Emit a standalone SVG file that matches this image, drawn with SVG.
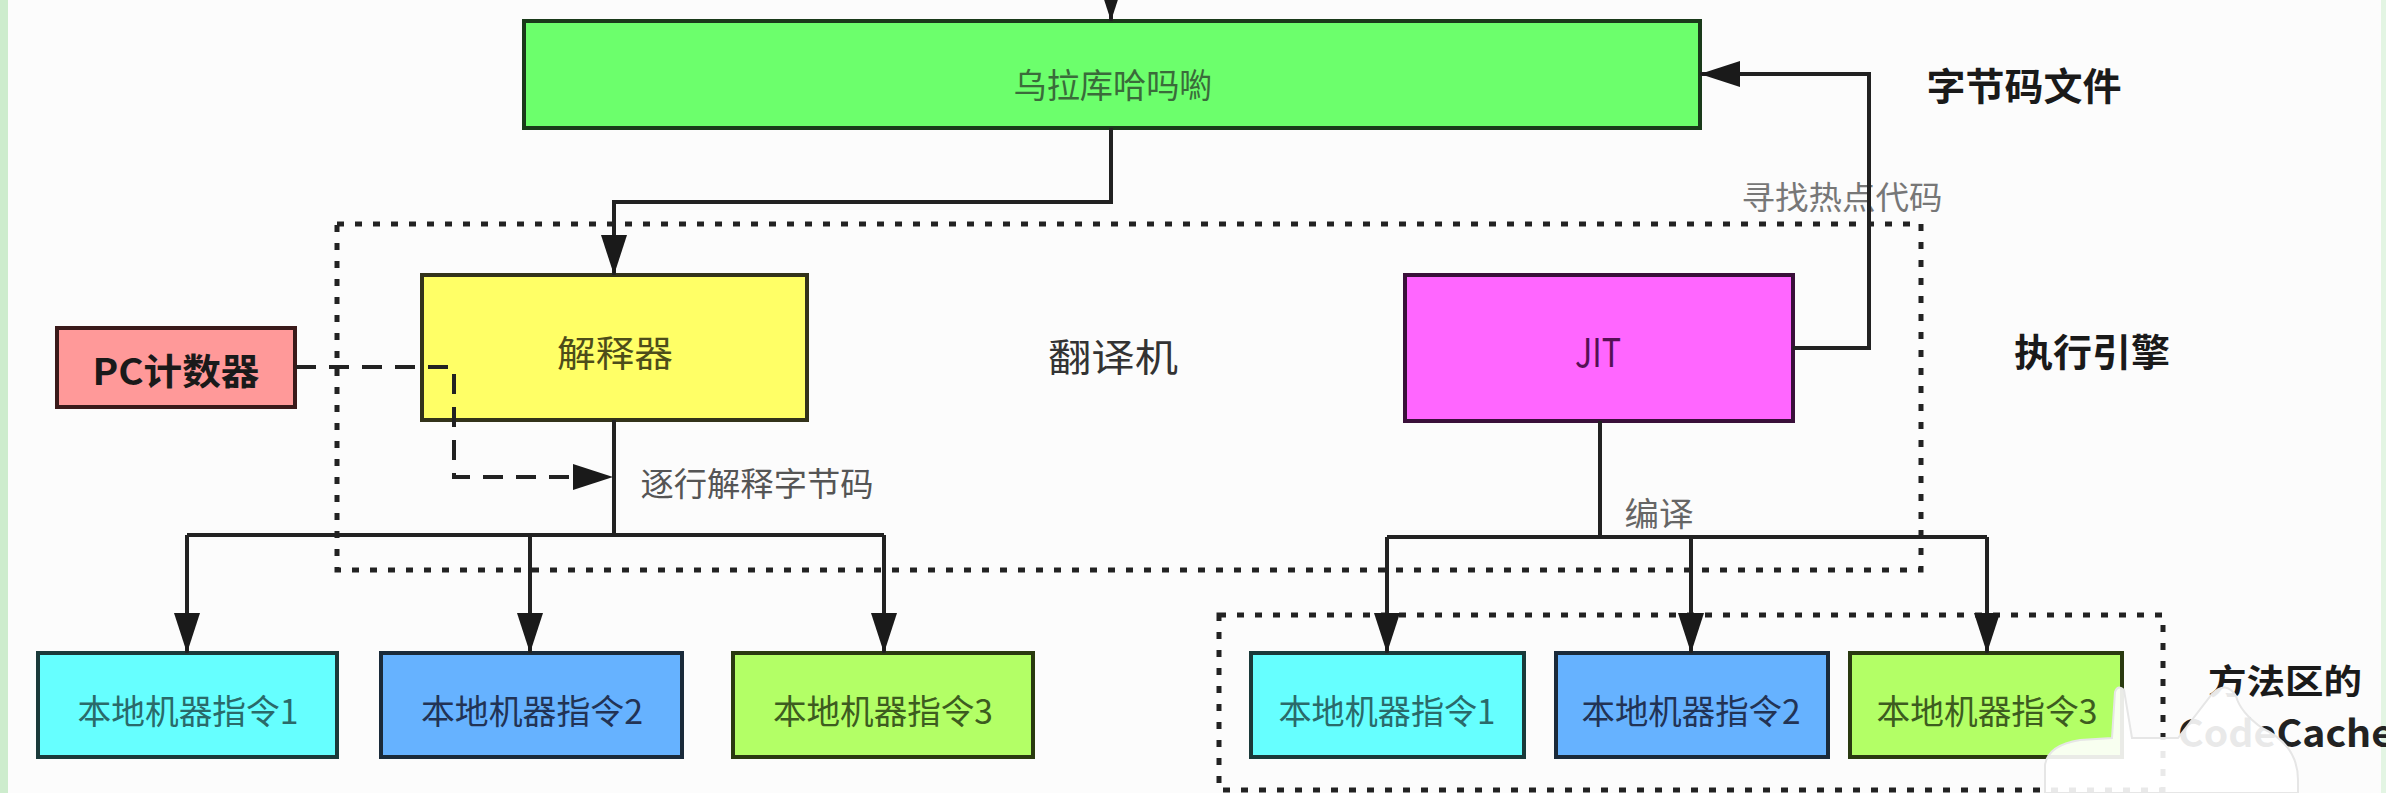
<svg xmlns="http://www.w3.org/2000/svg" width="2386" height="793" viewBox="0 0 2386 793">
<defs>
<style>
.t{font-family:"Noto Sans CJK SC","Liberation Sans",sans-serif;dominant-baseline:central;text-anchor:middle}
.b{font-weight:bold}
.ln{fill:none;stroke:#222;stroke-width:4}
.dot{fill:none;stroke:#222;stroke-width:5;stroke-dasharray:7 11}
.dash{fill:none;stroke:#222;stroke-width:4;stroke-dasharray:20 13}
.box{stroke-width:4}
</style>
<marker id="ah" markerUnits="userSpaceOnUse" viewBox="0 0 40 26" refX="40" refY="13" markerWidth="40" markerHeight="26" orient="auto">
<path d="M0,0 L40,13 L0,26 Z" fill="#1a1a1a"/>
</marker>
</defs>
<rect width="2386" height="793" fill="#fcfcfc"/>
<rect x="0" y="0" width="8" height="793" fill="#cdeccd"/>
<rect x="2381" y="0" width="5" height="793" fill="#e3f5e3"/>

<g id="regions">
<rect class="dot" x="337" y="224" width="1584" height="346"/>
<rect class="dot" x="1219" y="615" width="944" height="175"/>
</g>

<g id="labels">
<text class="t" x="1842" y="195" font-size="32" fill="#777" textLength="201" lengthAdjust="spacingAndGlyphs">寻找热点代码</text>
<text class="t" x="2024" y="83" font-size="38" fill="#1a1a1a" font-weight="bold" textLength="195" lengthAdjust="spacingAndGlyphs">字节码文件</text>
<text class="t" x="1113" y="354" font-size="38" fill="#333" textLength="130" lengthAdjust="spacingAndGlyphs">翻译机</text>
<text class="t" x="2092" y="349" font-size="38" fill="#1a1a1a" font-weight="bold" textLength="156" lengthAdjust="spacingAndGlyphs">执行引擎</text>
<text class="t" x="757" y="482" font-size="33" fill="#555" textLength="233" lengthAdjust="spacingAndGlyphs">逐行解释字节码</text>
<text class="t" x="1659" y="512" font-size="33" fill="#666" textLength="69" lengthAdjust="spacingAndGlyphs">编译</text>
<text class="t" x="2285" y="679" font-size="34" fill="#1a1a1a" font-weight="bold" textLength="154" lengthAdjust="spacingAndGlyphs">方法区的</text>
<text class="t" x="2286" y="730" font-size="38" fill="#222" font-weight="bold" textLength="216" lengthAdjust="spacingAndGlyphs">CodeCache</text>
</g>

<g id="node-bytecode">
<rect class="box" x="524" y="21" width="1176" height="107" fill="#6cff6c" stroke="#1a3a1a"/>
<text class="t" x="1113" y="83" font-size="34" fill="#3a6b3a" textLength="199" lengthAdjust="spacingAndGlyphs">乌拉库哈吗喲</text>
</g>
<g id="node-interpreter">
<rect class="box" x="422" y="275" width="385" height="145" fill="#ffff66" stroke="#33331a"/>
<text class="t" x="615" y="351" font-size="36" fill="#4d4d1a" textLength="116" lengthAdjust="spacingAndGlyphs">解释器</text>
</g>
<g id="node-pc">
<rect class="box" x="57" y="328" width="238" height="79" fill="#ff9999" stroke="#3a1a1a"/>
<text class="t b" x="176" y="369" font-size="36" fill="#1a1a1a" textLength="167" lengthAdjust="spacingAndGlyphs">PC计数器</text>
</g>
<g id="node-jit">
<rect class="box" x="1405" y="275" width="388" height="146" fill="#ff66ff" stroke="#3a103a"/>
<text class="t" x="1598" y="350" font-size="40" fill="#551055" textLength="46" lengthAdjust="spacingAndGlyphs">JIT</text>
</g>
<g id="node-native1">
<rect class="box" x="38" y="653" width="299" height="104" fill="#66ffff" stroke="#1a3a3a"/>
<text class="t" x="188" y="709" font-size="34" fill="#2a6a6a" textLength="221" lengthAdjust="spacingAndGlyphs">本地机器指令1</text>
</g>
<g id="node-native2">
<rect class="box" x="381" y="653" width="301" height="104" fill="#66b2ff" stroke="#1a2a3a"/>
<text class="t" x="532" y="709" font-size="34" fill="#223355" textLength="222" lengthAdjust="spacingAndGlyphs">本地机器指令2</text>
</g>
<g id="node-native3">
<rect class="box" x="733" y="653" width="300" height="104" fill="#b3ff66" stroke="#2a3a10"/>
<text class="t" x="883" y="709" font-size="34" fill="#3d5c1f" textLength="220" lengthAdjust="spacingAndGlyphs">本地机器指令3</text>
</g>
<g id="node-cache1">
<rect class="box" x="1251" y="653" width="273" height="104" fill="#66ffff" stroke="#1a3a3a"/>
<text class="t" x="1387" y="709" font-size="34" fill="#2a6a6a" textLength="217" lengthAdjust="spacingAndGlyphs">本地机器指令1</text>
</g>
<g id="node-cache2">
<rect class="box" x="1556" y="653" width="272" height="104" fill="#66b2ff" stroke="#1a2a3a"/>
<text class="t" x="1691" y="709" font-size="34" fill="#223355" textLength="219" lengthAdjust="spacingAndGlyphs">本地机器指令2</text>
</g>
<g id="node-cache3">
<rect class="box" x="1850" y="653" width="272" height="104" fill="#b3ff66" stroke="#2a3a10"/>
<text class="t" x="1987" y="709" font-size="34" fill="#3d5c1f" textLength="221" lengthAdjust="spacingAndGlyphs">本地机器指令3</text>
</g>

<g id="connectors">
<path class="ln" d="M1111,-40 V21" marker-end="url(#ah)"/>
<path class="ln" d="M1111,128 V202 H614 V275" marker-end="url(#ah)"/>
<path class="ln" d="M1793,348 H1869 V74 H1700" marker-end="url(#ah)"/>
<path class="ln" d="M614,420 V535"/>
<path class="ln" stroke-width="5" d="M187,535 H884"/>
<path class="ln" d="M187,535 V653" marker-end="url(#ah)"/>
<path class="ln" d="M530,535 V653" marker-end="url(#ah)"/>
<path class="ln" d="M884,535 V653" marker-end="url(#ah)"/>
<path class="ln" d="M1600,421 V537"/>
<path class="ln" stroke-width="5" d="M1387,537 H1987"/>
<path class="ln" d="M1387,537 V653" marker-end="url(#ah)"/>
<path class="ln" d="M1691,537 V653" marker-end="url(#ah)"/>
<path class="ln" d="M1987,537 V653" marker-end="url(#ah)"/>
<path class="dash" d="M296,367 H454 V477 H613" marker-end="url(#ah)"/>
</g>

<g id="overlay">
<path d="M2045,793 V765 Q2048,745 2080,740 L2112,738 L2115,692 Q2118,684 2124,690 L2132,738 L2178,738 L2212,694 Q2226,680 2236,696 Q2240,712 2262,728 Q2298,745 2298,780 V793 Z" fill="#ffffff" fill-opacity="0.9" stroke="#e6e6e6" stroke-width="2"/>
</g>
</svg>
